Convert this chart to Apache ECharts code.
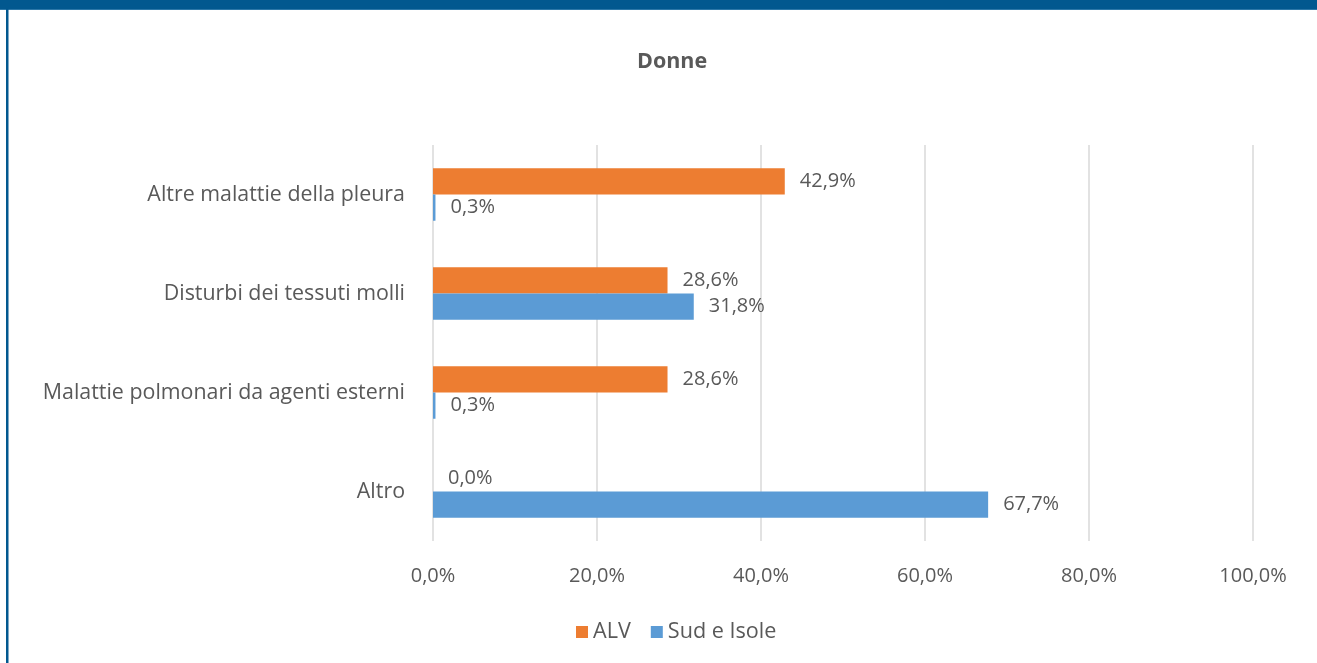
<!DOCTYPE html>
<html>
<head>
<meta charset="utf-8">
<script src="https://cdn.jsdelivr.net/npm/echarts@6/dist/echarts.min.js"></script>
<style>
html,body{margin:0;padding:0;background:#fff;}
#c{width:1317px;height:663px;}
</style>
</head>
<body>
<div id="c"></div>
<script>
const categories = ['Altro', 'Malattie polmonari da agenti esterni', 'Disturbi dei tessuti molli', 'Altre malattie della pleura'];
const alvValues = [0.0, 28.6, 28.6, 42.9];
const sudValues = [67.7, 0.3, 31.8, 0.3];
const seriesNames = ['ALV', 'Sud e Isole'];
const titleText = 'Donne';

const fmt = v => Number(v).toFixed(1).replace('.', ',') + '%';
const txt = '#595959';
const font = 'Open Sans';

const chart = echarts.init(document.getElementById('c'), null, {renderer: 'canvas'});
chart.setOption({
  animation: false,
  textStyle: {fontFamily: font},
  title: {
    text: titleText, left: 632, top: 46,
    textStyle: {fontFamily: font, fontSize: 21.5, fontWeight: 'bold', color: txt}
  },
  graphic: [
    {type: 'rect', shape: {x: 0, y: 0, width: 1317, height: 9}, style: {fill: '#02588F'}, silent: true},
    {type: 'rect', shape: {x: 0, y: 9, width: 1317, height: 1}, style: {fill: '#2C77A8'}, silent: true},
    {type: 'rect', shape: {x: 6, y: 9, width: 2.5, height: 654}, style: {fill: '#02588F'}, silent: true}
  ],
  legend: {
    data: seriesNames, bottom: 15, left: 571, itemWidth: 12, itemHeight: 12, itemGap: 20,
    icon: 'rect',
    textStyle: {fontFamily: font, fontSize: 21.6, color: txt}
  },
  grid: {left: 433, right: 64, top: 145, height: 396, containLabel: false},
  xAxis: {
    type: 'value', min: 0, max: 100, interval: 20,
    axisLine: {show: false}, axisTick: {show: false},
    splitLine: {lineStyle: {color: '#D9D9D9', width: 1.5}},
    axisLabel: {formatter: fmt, fontFamily: font, fontSize: 20, color: txt, margin: 25}
  },
  yAxis: {
    type: 'category', data: categories,
    axisLine: {show: false}, axisTick: {show: false},
    axisLabel: {fontFamily: font, fontSize: 21.4, color: txt, margin: 28}
  },
  series: [
    {
      name: seriesNames[0], type: 'bar', data: alvValues, barGap: '0%', barCategoryGap: '47%',
      itemStyle: {color: '#ED7D31'},
      label: {show: true, position: 'right', distance: 15, formatter: p => fmt(p.value), fontFamily: font, fontSize: 20, color: txt}
    },
    {
      name: seriesNames[1], type: 'bar', data: sudValues, barGap: '0%', barCategoryGap: '47%',
      itemStyle: {color: '#5B9BD5'},
      label: {show: true, position: 'right', distance: 15, formatter: p => fmt(p.value), fontFamily: font, fontSize: 20, color: txt}
    }
  ]
});
</script>
</body>
</html>
